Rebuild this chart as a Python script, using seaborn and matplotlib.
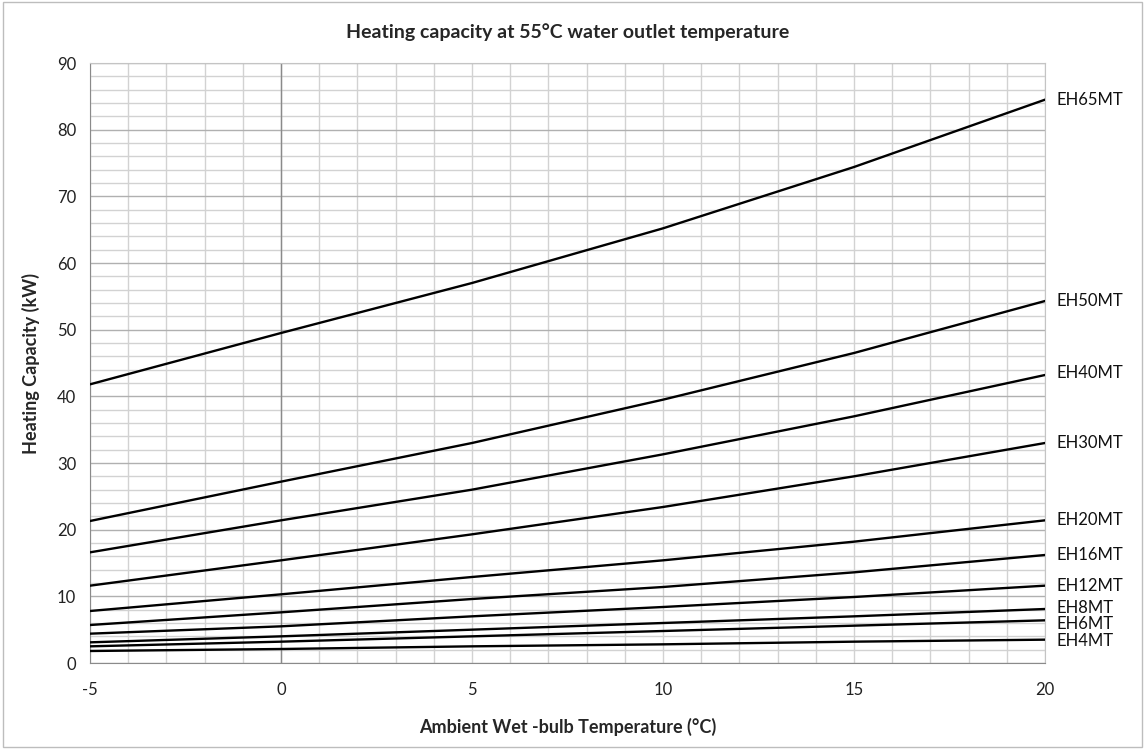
import pandas as pd
import matplotlib.pyplot as plt
import seaborn as sns
from matplotlib.ticker import MultipleLocator
from matplotlib.patches import Rectangle

# data
temps = [-5, 0, 5, 10, 15, 20]
eh65 = [41.8, 49.5, 57.0, 65.2, 74.4, 84.5]
eh50 = [21.3, 27.2, 33.0, 39.5, 46.5, 54.3]
eh40 = [16.6, 21.4, 26.0, 31.3, 37.0, 43.2]
eh30 = [11.6, 15.4, 19.3, 23.4, 28.0, 33.0]
eh20 = [7.8, 10.3, 12.9, 15.4, 18.2, 21.4]
eh16 = [5.7, 7.6, 9.6, 11.4, 13.6, 16.2]
eh12 = [4.4, 5.5, 7.0, 8.4, 9.9, 11.6]
eh8 = [3.1, 4.0, 5.0, 6.0, 7.0, 8.1]
eh6 = [2.5, 3.2, 4.0, 4.8, 5.6, 6.4]
eh4 = [1.8, 2.1, 2.5, 2.8, 3.2, 3.5]

models = ["EH65MT", "EH50MT", "EH40MT", "EH30MT", "EH20MT",
          "EH16MT", "EH12MT", "EH8MT", "EH6MT", "EH4MT"]
series = [eh65, eh50, eh40, eh30, eh20, eh16, eh12, eh8, eh6, eh4]

rows = []
for name, vals in zip(models, series):
    for t, v in zip(temps, vals):
        rows.append({"temp": t, "cap": v, "model": name})
df = pd.DataFrame(rows)

sns.set_style("white")
plt.rcParams["font.family"] = ["Lato", "DejaVu Sans"]
plt.rcParams["axes.unicode_minus"] = False

fig = plt.figure(figsize=(11.45, 7.49), dpi=100)
ax = fig.add_axes([90 / 1145, 1 - 663 / 749, 955 / 1145, 600 / 749])

sns.lineplot(data=df, x="temp", y="cap", units="model", estimator=None,
             color="black", linewidth=1.7, ax=ax, zorder=3)

ax.set_xlim(-5, 20)
ax.set_ylim(0, 90)
ax.xaxis.set_major_locator(MultipleLocator(5))
ax.xaxis.set_minor_locator(MultipleLocator(1))
ax.yaxis.set_major_locator(MultipleLocator(10))
ax.yaxis.set_minor_locator(MultipleLocator(2))
ax.grid(which="minor", color="#d2d2d2", linewidth=1.0, zorder=0)
ax.grid(which="major", axis="x", color="#d2d2d2", linewidth=1.0, zorder=0)
ax.grid(which="major", axis="y", color="#b0b0b0", linewidth=1.0, zorder=0)
ax.set_axisbelow(True)
ax.axvline(0, color="#8a8a8a", linewidth=1.0, zorder=1)
ax.tick_params(which="both", length=0, labelsize=12, colors="#222222")
ax.tick_params(axis="x", pad=14)
ax.tick_params(axis="y", pad=10)
for side in ["top", "right"]:
    ax.spines[side].set_color("#c4c4c4")
for side in ["left", "bottom"]:
    ax.spines[side].set_color("#8a8a8a")

# series labels at the right end
nudge = {"EH8MT": 0.1, "EH6MT": -0.6, "EH4MT": -0.2, "EH40MT": 0.3}
for name, vals in zip(models, series):
    ax.text(20.3, vals[-1] + nudge.get(name, 0), name, fontsize=12,
            va="center", ha="left", color="#111111", clip_on=False)

ax.set_xlabel("Ambient Wet -bulb Temperature (°C)", fontsize=13,
              fontweight="bold", labelpad=14)
ax.set_ylabel("Heating Capacity (kW)", fontsize=13, fontweight="bold",
              labelpad=12)
ax.set_title("Heating capacity at 55°C water outlet temperature",
             fontsize=14, fontweight="bold", pad=18)

# chart border
fig.patches.append(Rectangle((0.003, 0.003), 0.994, 0.994,
                             transform=fig.transFigure, fill=False,
                             edgecolor="#bdbdbd", linewidth=1.0))

fig.savefig("out.png", dpi=100)
